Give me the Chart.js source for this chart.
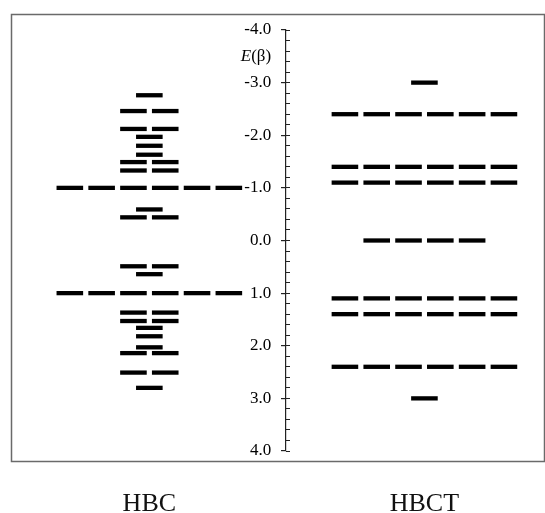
<!DOCTYPE html>
<html>
<head>
<meta charset="utf-8">
<script src="https://cdn.jsdelivr.net/npm/chart.js@4.4.0/dist/chart.umd.min.js"></script>
<style>
  html, body { margin: 0; padding: 0; background: #fff; }
  #wrap { width: 545px; height: 513px; position: relative; }
</style>
</head>
<body>
<div id="wrap"><canvas id="levelChart"></canvas></div>
<script>
// energy levels, E in units of beta
const hbcLevels = [-2.76, -2.46, -2.12, -1.97, -1.80, -1.63, -1.49, -1.33, -1.0, -0.59, -0.44,
                   0.49, 0.64, 1.0, 1.37, 1.53, 1.66, 1.82, 2.03, 2.14, 2.51, 2.80];
const hbcDegen = [1, 2, 2, 1, 1, 1, 2, 2, 6, 1, 2,
                  2, 1, 6, 2, 2, 1, 1, 1, 2, 2, 1];
const hbctLevels = [-3.0, -2.4, -1.4, -1.1, 0.0, 1.1, 1.4, 2.4, 3.0];
const hbctDegen = [1, 6, 6, 6, 4, 6, 6, 6, 1];

const molecules = ['HBC', 'HBCT'];
const tickValues = [-4, -3, -2, -1, 0, 1, 2, 3, 4];
const tickLabels = ['-4.0', '-3.0', '-2.0', '-1.0', '0.0', '1.0', '2.0', '3.0', '4.0'];

// horizontal layout in "slot" units (one dash per slot)
const X_MAX = 16.76;
const HBC_X = 4.35;
const AXIS_X = 8.65;
const LABEL_X = AXIS_X - 0.47;
const HBCT_X = 13.0;

function dashes(levels, degen, centre) {
    let pts = [];
    levels.forEach((e, i) => {
        let n = degen[i];
        for (let k = 0; k < n; k++) {
            pts.push({x: centre + k - (n - 1) / 2, y: e});
        }
    });
    return pts;
}

const serif = "'Liberation Serif', 'DejaVu Serif', serif";

const framePlugin = {
    id: 'frame',
    beforeDraw(chart) {
        let ctx = chart.ctx;
        ctx.save();
        ctx.strokeStyle = '#6a6a6a';
        ctx.lineWidth = 1.5;
        ctx.strokeRect(11.5, 14.5, 533, 447);
        ctx.restore();
    },
    afterDraw(chart) {
        // E(beta) axis label
        let ctx = chart.ctx;
        let x = chart.scales.x.getPixelForValue(LABEL_X);
        let y = chart.scales.y.getPixelForValue(-3.5);
        ctx.save();
        ctx.fillStyle = '#000';
        ctx.textBaseline = 'middle';
        ctx.textAlign = 'right';
        ctx.font = '17px ' + serif;
        let w = ctx.measureText('(β)').width;
        ctx.fillText('(β)', x, y);
        ctx.font = 'italic 17px ' + serif;
        ctx.fillText('E', x - w, y);
        ctx.restore();
    }
};

const levelStyle = {
    showLine: false,
    pointStyle: 'line',
    pointRadius: 13.3,
    pointHoverRadius: 13.3,
    pointBorderWidth: 4.3,
    borderColor: '#000',
    backgroundColor: '#000'
};

const ctx = document.getElementById('levelChart').getContext('2d');
const levelChart = new Chart(ctx, {
    type: 'scatter',
    data: {
        datasets: [
            Object.assign({label: molecules[0], data: dashes(hbcLevels, hbcDegen, HBC_X)}, levelStyle),
            Object.assign({label: molecules[1], data: dashes(hbctLevels, hbctDegen, HBCT_X)}, levelStyle)
        ]
    },
    options: {
        responsive: true,
        maintainAspectRatio: false,
        animation: false,
        layout: {autoPadding: false, padding: {left: 11, right: 1, top: 30, bottom: 62}},
        plugins: {legend: {display: false}, tooltip: {enabled: false}},
        scales: {
            x: {
                type: 'linear',
                min: 0,
                max: X_MAX,
                position: {y: 4},
                grid: {display: false, drawTicks: false},
                border: {display: false},
                afterBuildTicks: (scale) => {
                    scale.ticks = [{value: HBC_X}, {value: HBCT_X}];
                },
                ticks: {
                    autoSkip: false,
                    maxRotation: 0,
                    padding: 38,
                    color: '#111',
                    font: {family: serif, size: 26},
                    callback: (v, i) => molecules[i]
                }
            },
            y: {
                type: 'linear',
                reverse: true,
                min: -4,
                max: 4,
                position: {x: AXIS_X},
                afterBuildTicks: (scale) => {
                    scale.ticks = tickValues.map(v => ({value: v}));
                },
                grid: {drawOnChartArea: false, tickLength: 4, color: '#222', lineWidth: 1.2},
                border: {display: true, color: '#222', width: 1.2},
                ticks: {display: false}
            },
            yMinor: {
                type: 'linear',
                reverse: true,
                min: -4,
                max: 4,
                position: {x: AXIS_X},
                afterBuildTicks: (scale) => {
                    let t = [];
                    for (let k = 0; k <= 40; k++) t.push({value: -4 + k * 0.2});
                    scale.ticks = t;
                },
                grid: {drawOnChartArea: false, tickLength: -4, color: '#222', lineWidth: 1},
                border: {display: false},
                ticks: {display: false}
            },
            yLabels: {
                type: 'linear',
                reverse: true,
                min: -4,
                max: 4,
                position: {x: LABEL_X},
                afterBuildTicks: (scale) => {
                    scale.ticks = tickValues.map(v => ({value: v}));
                },
                grid: {display: false, drawTicks: false},
                border: {display: false},
                ticks: {
                    autoSkip: false,
                    padding: 0,
                    color: '#000',
                    font: {family: serif, size: 17},
                    callback: (v, i) => tickLabels[i]
                }
            }
        }
    },
    plugins: [framePlugin]
});
</script>
</body>
</html>
